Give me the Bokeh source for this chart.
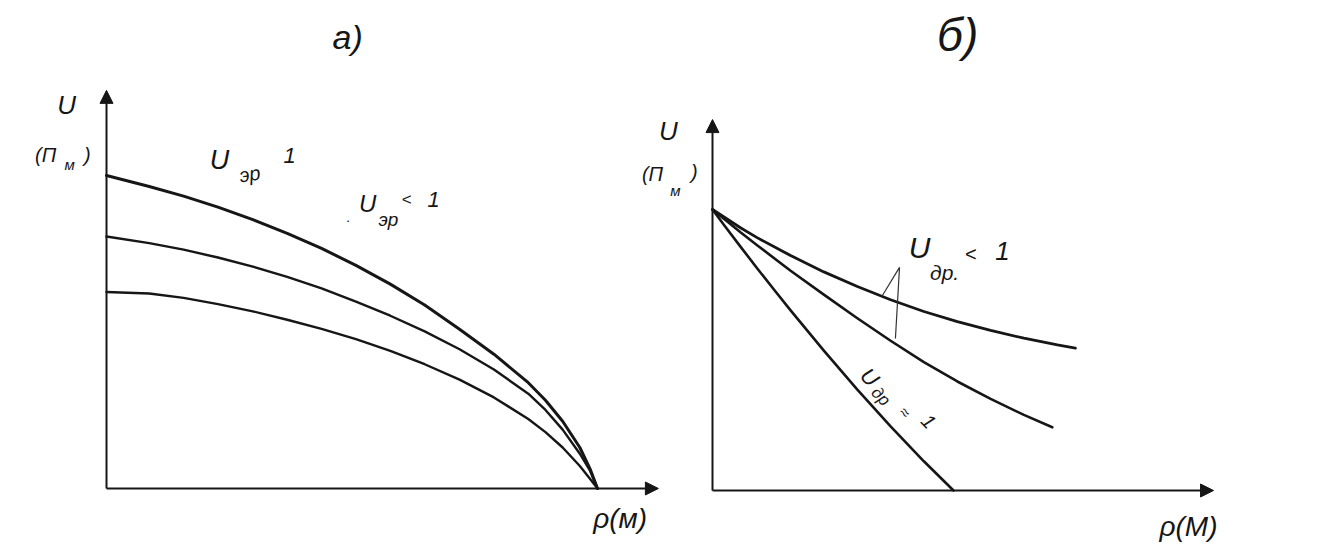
from bokeh.plotting import figure
from bokeh.models import Range1d, Arrow, NormalHead
from bokeh.core.properties import value
from bokeh.embed import file_html
from bokeh.resources import INLINE

# ---------------- data: panel а) ----------------
rho_a = [0.0, 0.087, 0.157, 0.227, 0.298, 0.368, 0.438, 0.508, 0.578,
         0.648, 0.719, 0.789, 0.859, 0.894, 0.929, 0.964, 0.985, 1.0]
u_a_top = [1.00, 0.965, 0.934, 0.899, 0.859, 0.815, 0.767, 0.713, 0.653,
           0.586, 0.509, 0.429, 0.338, 0.282, 0.215, 0.131, 0.062, 0.0]
u_a_mid = [0.805, 0.784, 0.763, 0.738, 0.709, 0.676, 0.639, 0.597, 0.552,
           0.502, 0.445, 0.380, 0.303, 0.251, 0.188, 0.111, 0.056, 0.0]
u_a_low = [0.628, 0.623, 0.609, 0.589, 0.566, 0.539, 0.510, 0.477, 0.440,
           0.397, 0.348, 0.291, 0.222, 0.180, 0.131, 0.072, 0.030, 0.0]

# ---------------- data: panel б) ----------------
rho_b_top = [0.0, 0.116, 0.185, 0.324, 0.462, 0.601, 0.739, 0.877, 1.016,
             1.154, 1.292, 1.431, 1.506]
u_b_top = [1.0, 0.935, 0.900, 0.836, 0.778, 0.726, 0.679, 0.637, 0.601,
           0.570, 0.542, 0.518, 0.507]
rho_b_mid = [0.0, 0.116, 0.185, 0.324, 0.462, 0.601, 0.739, 0.877, 1.016,
             1.154, 1.292, 1.410]
u_b_mid = [1.0, 0.919, 0.873, 0.782, 0.697, 0.613, 0.533, 0.457, 0.388,
           0.326, 0.269, 0.225]
rho_b_low = [0.0, 0.047, 0.116, 0.185, 0.254, 0.324, 0.462, 0.601, 0.739,
             0.877, 1.0]
u_b_low = [1.0, 0.946, 0.868, 0.791, 0.716, 0.641, 0.498, 0.359, 0.228,
           0.104, 0.0]

# leader mark (the small "Λ" pointer) in panel б)
leader_rho = [0.705, 0.776, 0.759]
leader_u = [0.694, 0.794, 0.541]

FONT = "Liberation Sans"
INK = "#161616"

# one canvas; panel а) uses the default ranges, panel б) uses extra ranges "b"
p = figure(width=1310, height=552,
           x_range=Range1d(-0.2159, 2.4521), y_range=Range1d(-0.2045, 1.5591),
           output_backend="svg", toolbar_location=None,
           x_axis_location=None, y_axis_location=None, min_border=0)
p.extra_x_ranges = {"b": Range1d(-2.9544, 2.4813)}
p.extra_y_ranges = {"b": Range1d(-0.2206, 1.7438)}
p.grid.visible = False
p.outline_line_color = None
p.background_fill_color = "white"
p.border_fill_color = "white"


def rng(panel):
    if panel == "b":
        return dict(x_range_name="b", y_range_name="b")
    return {}


def lab(panel, x, y, t, size, angle=0.0, style="italic"):
    p.text(x=[x], y=[y], text=[t], text_font=value(FONT),
           text_font_size=f"{size}px", text_font_style=style,
           text_align="center", text_baseline="middle", angle=angle,
           text_color=INK, **rng(panel))


def curve(panel, xs, ys, w):
    p.line(xs, ys, line_width=w, line_color=INK, line_join="round",
           line_cap="round", **rng(panel))


def axes(panel, xmax, ymax):
    for xe, ye in ((0, ymax), (xmax, 0)):
        p.add_layout(Arrow(end=NormalHead(size=13, fill_color=INK, line_color=INK),
                           x_start=0, y_start=0, x_end=xe, y_end=ye,
                           line_width=2, line_color=INK, **rng(panel)))


# ---------------- panel а) ----------------
axes("a", 1.124, 1.272)
curve("a", rho_a, u_a_top, 3)
curve("a", rho_a, u_a_mid, 2.4)
curve("a", rho_a, u_a_low, 2.4)

lab("a", 0.491, 1.441, "а)", 34)
lab("a", -0.081, 1.224, "U", 26)
lab("a", -0.124, 1.064, "(П", 20)
lab("a", -0.075, 1.036, "м", 15)
lab("a", -0.039, 1.067, ")", 20)
lab("a", 0.230, 1.048, "U", 27)
lab("a", 0.292, 1.005, "эр", 20, angle=0.15)
lab("a", 0.373, 1.064, "1", 22)
lab("a", 0.532, 0.911, "U", 24)
lab("a", 0.574, 0.860, "эр", 19)
lab("a", 0.611, 0.922, "<", 17)
lab("a", 0.666, 0.923, "1", 22)
lab("a", 0.493, 0.866, ".", 14)
lab("a", 1.046, -0.096, "ρ(м)", 28)

# ---------------- panel б) ----------------
axes("b", 2.079, 1.320)
curve("b", rho_b_top, u_b_top, 2.8)
curve("b", rho_b_mid, u_b_mid, 2.6)
curve("b", rho_b_low, u_b_low, 2.6)
p.line(leader_rho, leader_u, line_width=1.2, line_color="#333333", **rng("b"))

lab("b", 1.017, 1.622, "б)", 46)
lab("b", -0.183, 1.281, "U", 26)
lab("b", -0.249, 1.128, "(П", 20)
lab("b", -0.154, 1.068, "м", 15)
lab("b", -0.075, 1.132, ")", 20)
lab("b", 0.859, 0.865, "U", 30)
lab("b", 0.963, 0.776, "др.", 21)
lab("b", 1.071, 0.840, "<", 20)
lab("b", 1.203, 0.854, "1", 26)
lab("b", 0.652, 0.403, "U", 22, angle=-0.8)
lab("b", 0.698, 0.335, "др", 17, angle=-0.8)
lab("b", 0.798, 0.278, "≈", 16, angle=-0.8)
lab("b", 0.897, 0.246, "1", 20, angle=-0.8)
lab("b", 1.975, -0.128, "ρ(М)", 28)

open("out.html", "w").write(file_html(p, INLINE))
